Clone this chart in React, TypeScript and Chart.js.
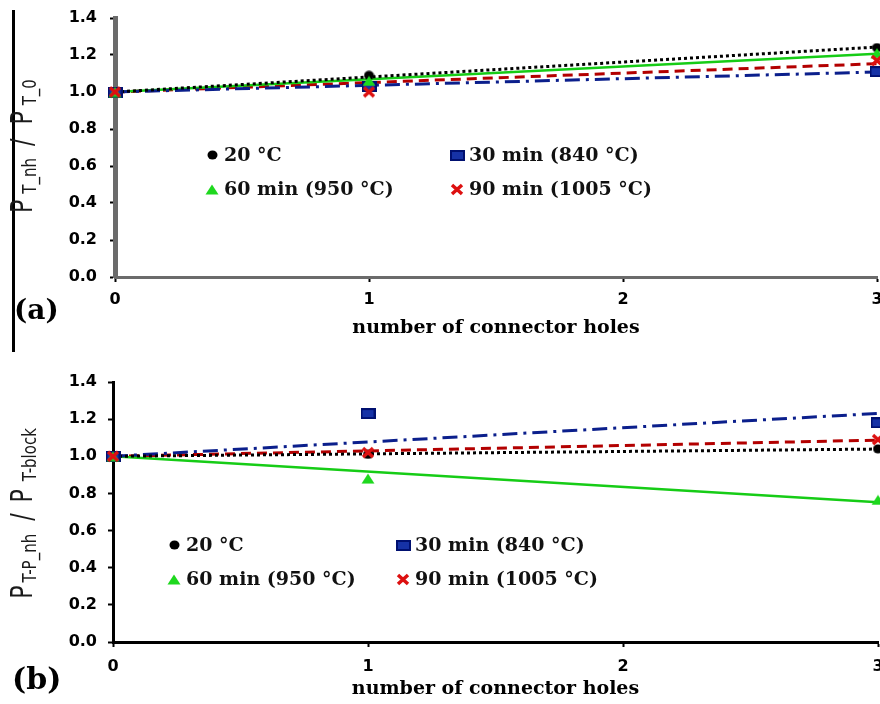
import React, { useEffect, useRef } from 'react';
import { Chart, registerables } from 'chart.js';

Chart.register(...registerables);

// ---------- data ----------
const HOLES = [0, 1, 3];
const X_TICKS = [0, 1, 2, 3];
const Y_TICKS = [0, 0.2, 0.4, 0.6, 0.8, 1.0, 1.2, 1.4];
const SERIES_LABELS = ['20 °C', '30 min (840 °C)', '60 min (950 °C)', '90 min (1005 °C)'];
const X_TITLE = 'number of connector holes';

// panel (a): P_T_nh / P_T_0
const A_20C = [1.0, 1.09, 1.24];
const A_30MIN = [1.0, 1.03, 1.11];
const A_60MIN = [1.0, 1.06, 1.21];
const A_90MIN = [1.0, 1.0, 1.17];

// panel (b): P_T-P_nh / P_T-block
const B_20C = [1.0, 1.01, 1.04];
const B_30MIN = [1.0, 1.23, 1.18];
const B_60MIN = [1.0, 0.88, 0.765];
const B_90MIN = [1.0, 1.02, 1.09];

// ---------- styles ----------
const SERIES_STYLES = [
  { marker: 'circle', line: '#000000', width: 3, dash: [3, 3] },
  { marker: 'square', line: '#0b1f8c', width: 3, dash: [15, 6, 3, 6] },
  { marker: 'triangle', line: '#16cc16', width: 2.5, dash: [] as number[] },
  { marker: 'cross', line: '#b30000', width: 3, dash: [10, 6] },
];

function makeMarker(kind: string): HTMLCanvasElement {
  const c = document.createElement('canvas');
  if (kind === 'circle') {
    c.width = 11; c.height = 10;
    const g = c.getContext('2d')!;
    g.fillStyle = '#000';
    g.beginPath(); g.ellipse(5.5, 5, 5, 4.5, 0, 0, Math.PI * 2); g.fill();
  } else if (kind === 'square') {
    c.width = 15; c.height = 11;
    const g = c.getContext('2d')!;
    g.fillStyle = '#1632a6'; g.fillRect(0, 0, 15, 11);
    g.strokeStyle = '#001070'; g.lineWidth = 2; g.strokeRect(1, 1, 13, 9);
  } else if (kind === 'triangle') {
    c.width = 14; c.height = 11;
    const g = c.getContext('2d')!;
    g.fillStyle = '#1ed81e';
    g.beginPath(); g.moveTo(7, 0.5); g.lineTo(13.5, 10.5); g.lineTo(0.5, 10.5); g.closePath(); g.fill();
  } else {
    c.width = 14; c.height = 13;
    const g = c.getContext('2d')!;
    g.strokeStyle = '#dd1010'; g.lineWidth = 3.5;
    g.beginPath(); g.moveTo(2, 2); g.lineTo(12, 11); g.moveTo(12, 2); g.lineTo(2, 11); g.stroke();
  }
  return c;
}

// trend line anchored at the first point (least squares with fixed intercept)
function anchoredFit(xs: number[], ys: number[], xEnd: number) {
  const x0 = xs[0], y0 = ys[0];
  let num = 0, den = 0;
  for (let i = 1; i < xs.length; i++) {
    const dx = xs[i] - x0;
    num += dx * (ys[i] - y0);
    den += dx * dx;
  }
  const k = den ? num / den : 0;
  return [{ x: x0, y: y0 }, { x: xEnd, y: y0 + k * (xEnd - x0) }];
}

type Seg = { t: string; size: number; gap: number; dy: number };

const PANELS = [
  {
    key: 'a',
    series: [A_20C, A_30MIN, A_60MIN, A_90MIN],
    padding: { top: 18, right: 3, left: 0, bottom: 0 },
    yWidth: 115, xHeight: 75,
    axisColor: '#6b6b6b', yBorder: 5, xBorder: 3,
    yTickPad: 13, xTickPad: 8, titleBottom: 13,
    label: '(a)', labelSize: 28, labelX: 14, labelY: 312,
    rule: { x: 12, y0: 10, y1: 352, w: 3 },
    yTitle: {
      cx: 32, cy: 146, scale: 1.35,
      segs: [
        { t: 'P', size: 22, gap: 6, dy: 0 },
        { t: 'T_nh', size: 15, gap: 12, dy: 3 },
        { t: '/', size: 22, gap: 14, dy: 0 },
        { t: 'P', size: 22, gap: 6, dy: 0 },
        { t: 'T_0', size: 15, gap: 0, dy: 3 },
      ] as Seg[],
    },
    legendCols: [97, 342], legendRows: [137, 171],
  },
  {
    key: 'b',
    series: [B_20C, B_30MIN, B_60MIN, B_90MIN],
    padding: { top: 30, right: 2, left: 0, bottom: 0 },
    yWidth: 113, xHeight: 62,
    axisColor: '#000000', yBorder: 3, xBorder: 3,
    yTickPad: 11, xTickPad: 10, titleBottom: 4,
    label: '(b)', labelSize: 30, labelX: 12, labelY: 329,
    rule: null as null | { x: number; y0: number; y1: number; w: number },
    yTitle: {
      cx: 32, cy: 161.5, scale: 1.35,
      segs: [
        { t: 'P', size: 22, gap: 3, dy: 0 },
        { t: 'T-P_nh', size: 15, gap: 13, dy: 3 },
        { t: '/', size: 22, gap: 11, dy: 0 },
        { t: 'P', size: 22, gap: 8, dy: 0 },
        { t: 'T-block', size: 15, gap: 0, dy: 3 },
      ] as Seg[],
    },
    legendCols: [61, 290], legendRows: [163, 197],
  },
];

type PanelCfg = (typeof PANELS)[number];

function makeDecor(p: PanelCfg, markers: HTMLCanvasElement[]) {
  return {
    id: 'panelDecor_' + p.key,
    afterDraw(chart: any) {
      const { ctx, chartArea } = chart;
      ctx.save();
      if (p.rule) {
        ctx.fillStyle = '#000';
        ctx.fillRect(p.rule.x, p.rule.y0, p.rule.w, p.rule.y1 - p.rule.y0);
      }
      // panel label
      ctx.fillStyle = '#000';
      ctx.textAlign = 'left';
      ctx.textBaseline = 'middle';
      ctx.font = `bold ${p.labelSize}px "DejaVu Serif"`;
      ctx.fillText(p.label, p.labelX, p.labelY);

      // rotated y title with subscripts
      const yt = p.yTitle;
      ctx.save();
      ctx.translate(yt.cx, yt.cy);
      ctx.rotate(-Math.PI / 2);
      ctx.scale(1, yt.scale);
      ctx.textBaseline = 'alphabetic';
      ctx.fillStyle = '#1a1a1a';
      let total = 0;
      const widths = yt.segs.map((s) => {
        ctx.font = `${s.size}px "DejaVu Sans"`;
        const w = ctx.measureText(s.t).width;
        total += w + s.gap;
        return w;
      });
      let x = -total / 2;
      yt.segs.forEach((s, i) => {
        ctx.font = `${s.size}px "DejaVu Sans"`;
        ctx.fillText(s.t, x, s.dy);
        x += widths[i] + s.gap;
      });
      ctx.restore();

      // legend inside the plot area (2 x 2)
      ctx.font = 'bold 19px "DejaVu Serif"';
      ctx.textBaseline = 'middle';
      ctx.fillStyle = '#111';
      SERIES_LABELS.forEach((lab, i) => {
        const mx = chartArea.left + p.legendCols[i % 2];
        const my = chartArea.top + p.legendRows[Math.floor(i / 2)];
        const m = markers[i];
        ctx.drawImage(m, Math.round(mx - m.width / 2), Math.round(my - m.height / 2));
        ctx.fillText(lab, mx + 12, my + 1);
      });
      ctx.restore();
    },
  };
}

function buildConfig(p: PanelCfg): any {
  const markers = SERIES_STYLES.map((s) => makeMarker(s.marker));
  const xEnd = X_TICKS[X_TICKS.length - 1];
  const lineSets = p.series.map((vals, i) => ({
    label: SERIES_LABELS[i] + ' trend',
    data: anchoredFit(HOLES, vals, xEnd),
    showLine: true,
    borderColor: SERIES_STYLES[i].line,
    borderWidth: SERIES_STYLES[i].width,
    borderDash: SERIES_STYLES[i].dash,
    pointRadius: 0,
    pointHoverRadius: 0,
    fill: false,
    clip: false,
    order: 10 + i,
  }));
  const pointSets = p.series.map((vals, i) => ({
    label: SERIES_LABELS[i],
    data: HOLES.map((x, j) => ({ x, y: vals[j] })),
    showLine: false,
    pointStyle: markers[i],
    pointRadius: 5,
    pointHoverRadius: 5,
    clip: false,
    order: 4 - i,
  }));

  const tickFont = { family: 'DejaVu Sans', weight: 'bold', size: 16 };
  return {
    type: 'scatter',
    data: { datasets: [...pointSets, ...lineSets] },
    options: {
      responsive: false,
      animation: false,
      events: [],
      layout: { padding: p.padding, autoPadding: false },
      plugins: { legend: { display: false }, tooltip: { enabled: false }, title: { display: false } },
      scales: {
        x: {
          type: 'linear',
          min: X_TICKS[0],
          max: xEnd,
          afterBuildTicks: (s: any) => { s.ticks = X_TICKS.map((v) => ({ value: v })); },
          afterFit: (s: any) => { s.height = p.xHeight; s.paddingLeft = 0; s.paddingRight = 0; },
          ticks: { font: tickFont, color: '#000', padding: p.xTickPad, maxRotation: 0, autoSkip: false, callback: (v: any) => String(v) },
          grid: { display: true, drawOnChartArea: false, drawTicks: true, tickLength: 5, tickWidth: 2, tickColor: '#000' },
          border: { display: true, color: p.axisColor, width: p.xBorder },
          title: {
            display: true,
            text: X_TITLE,
            color: '#000',
            font: { family: 'DejaVu Serif', weight: 'bold', size: 19 },
            padding: { top: 0, bottom: p.titleBottom },
          },
        },
        y: {
          type: 'linear',
          min: Y_TICKS[0],
          max: Y_TICKS[Y_TICKS.length - 1],
          afterBuildTicks: (s: any) => { s.ticks = Y_TICKS.map((v) => ({ value: v })); },
          afterFit: (s: any) => { s.width = p.yWidth; s.paddingTop = 0; s.paddingBottom = 0; },
          ticks: { font: tickFont, color: '#000', padding: p.yTickPad, autoSkip: false, callback: (v: any) => Number(v).toFixed(1) },
          grid: { display: true, drawOnChartArea: false, drawTicks: true, tickLength: 5, tickWidth: 2, tickColor: '#000' },
          border: { display: true, color: p.axisColor, width: p.yBorder },
        },
      },
    },
    plugins: [makeDecor(p, markers)],
  };
}

function Panel({ cfg }: { cfg: PanelCfg }) {
  const ref = useRef<HTMLCanvasElement>(null);
  useEffect(() => {
    const chart = new Chart(ref.current as HTMLCanvasElement, buildConfig(cfg));
    return () => chart.destroy();
  }, [cfg]);
  return <canvas ref={ref} width={880} height={352} style={{ display: 'block', width: 880, height: 352 }} />;
}

export default function App() {
  return (
    <div style={{ position: 'absolute', left: 0, top: 0, width: 880, height: 704, overflow: 'hidden', background: '#fff' }}>
      {PANELS.map((p) => (
        <Panel key={p.key} cfg={p} />
      ))}
    </div>
  );
}
